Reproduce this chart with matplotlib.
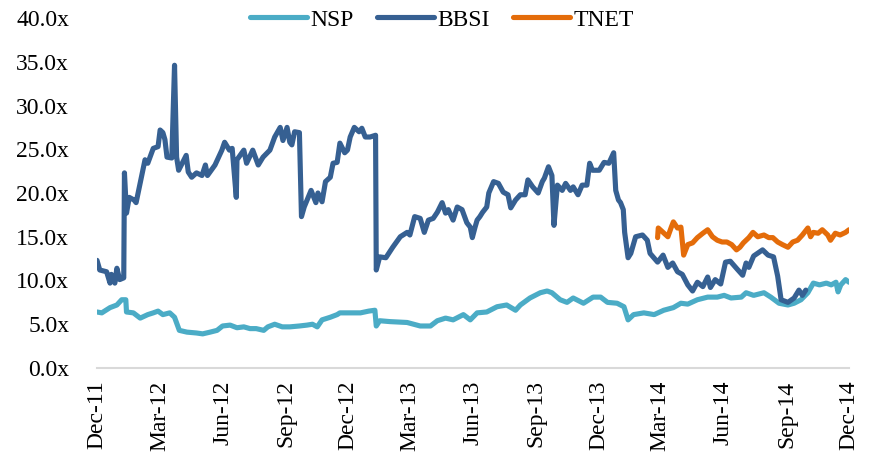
import matplotlib
matplotlib.use("Agg")
import matplotlib.pyplot as plt
import matplotlib.dates as mdates
import pandas as pd

# NSP multiple
nsp_dates = ["2011-12-01", "2011-12-08", "2011-12-20", "2011-12-30", "2012-01-06", "2012-01-12",
             "2012-01-13", "2012-01-23", "2012-02-02", "2012-02-13", "2012-02-21", "2012-02-28",
             "2012-03-06", "2012-03-16", "2012-03-23", "2012-03-30", "2012-04-10", "2012-04-24",
             "2012-05-03", "2012-05-14", "2012-05-24", "2012-06-01", "2012-06-12", "2012-06-22",
             "2012-07-02", "2012-07-11", "2012-07-20", "2012-07-31", "2012-08-06", "2012-08-16",
             "2012-08-27", "2012-09-07", "2012-09-21", "2012-10-02", "2012-10-10", "2012-10-17",
             "2012-10-24", "2012-11-05", "2012-11-15", "2012-11-19", "2012-11-30", "2012-12-10",
             "2012-12-19", "2012-12-31", "2013-01-09", "2013-01-11", "2013-01-16", "2013-01-31",
             "2013-02-25", "2013-03-16", "2013-03-31", "2013-04-10", "2013-04-22", "2013-05-03",
             "2013-05-18", "2013-05-28", "2013-06-07", "2013-06-21", "2013-07-06", "2013-07-20",
             "2013-08-02", "2013-08-09", "2013-08-23", "2013-09-07", "2013-09-17", "2013-09-24",
             "2013-10-06", "2013-10-16", "2013-10-25", "2013-11-09", "2013-11-23", "2013-12-04",
             "2013-12-14", "2013-12-28", "2014-01-07", "2014-01-13", "2014-01-21", "2014-02-05",
             "2014-02-20", "2014-03-06", "2014-03-20", "2014-03-31", "2014-04-10", "2014-04-24",
             "2014-05-09", "2014-05-23", "2014-06-02", "2014-06-12", "2014-06-27", "2014-07-04",
             "2014-07-15", "2014-07-30", "2014-08-09", "2014-08-21", "2014-09-03", "2014-09-12",
             "2014-09-22", "2014-10-02", "2014-10-10", "2014-10-19", "2014-10-29", "2014-11-05",
             "2014-11-12", "2014-11-15", "2014-11-19", "2014-11-26", "2014-12-01"]
nsp_vals = [6.4, 6.3, 6.9, 7.2, 7.8, 7.8,
            6.4, 6.3, 5.7, 6.1, 6.3, 6.5,
            6.1, 6.3, 5.8, 4.3, 4.1, 4.0,
            3.9, 4.1, 4.3, 4.8, 4.9, 4.6,
            4.7, 4.5, 4.5, 4.3, 4.7, 5.0,
            4.7, 4.7, 4.8, 4.9, 5.0, 4.7,
            5.5, 5.8, 6.1, 6.3, 6.3, 6.3,
            6.3, 6.5, 6.6, 4.8, 5.4, 5.3,
            5.2, 4.8, 4.8, 5.4, 5.7, 5.5,
            6.1, 5.5, 6.3, 6.4, 7.0, 7.2,
            6.6, 7.2, 8.0, 8.6, 8.8, 8.6,
            7.8, 7.5, 8.0, 7.4, 8.1, 8.1,
            7.5, 7.4, 7.0, 5.5, 6.1, 6.3,
            6.1, 6.6, 6.9, 7.4, 7.3, 7.8,
            8.1, 8.1, 8.3, 8.0, 8.1, 8.6,
            8.3, 8.6, 8.1, 7.4, 7.2, 7.4,
            7.8, 8.6, 9.7, 9.5, 9.7, 9.5,
            9.8, 8.7, 9.5, 10.1, 9.8]

# BBSI multiple
bbsi_dates = ["2011-12-01", "2011-12-05", "2011-12-15", "2011-12-20", "2011-12-22", "2011-12-27",
              "2011-12-30", "2012-01-03", "2012-01-09", "2012-01-10", "2012-01-13", "2012-01-17",
              "2012-01-24", "2012-01-27", "2012-02-09", "2012-02-13", "2012-02-21", "2012-02-28",
              "2012-03-02", "2012-03-06", "2012-03-09", "2012-03-12", "2012-03-19", "2012-03-23",
              "2012-03-26", "2012-03-29", "2012-04-09", "2012-04-12", "2012-04-17", "2012-04-24",
              "2012-05-02", "2012-05-07", "2012-05-10", "2012-05-21", "2012-05-31", "2012-06-04",
              "2012-06-11", "2012-06-15", "2012-06-21", "2012-06-22", "2012-07-02", "2012-07-06",
              "2012-07-15", "2012-07-23", "2012-07-30", "2012-08-09", "2012-08-16", "2012-08-24",
              "2012-08-28", "2012-09-03", "2012-09-07", "2012-09-10", "2012-09-14", "2012-09-21",
              "2012-09-24", "2012-09-28", "2012-10-08", "2012-10-15", "2012-10-18", "2012-10-24",
              "2012-10-29", "2012-11-05", "2012-11-09", "2012-11-15", "2012-11-19", "2012-11-26",
              "2012-11-30", "2012-12-04", "2012-12-10", "2012-12-17", "2012-12-21", "2012-12-26",
              "2013-01-02", "2013-01-10", "2013-01-11", "2013-01-16", "2013-01-25", "2013-02-04",
              "2013-02-15", "2013-02-25", "2013-03-01", "2013-03-08", "2013-03-16", "2013-03-22",
              "2013-03-28", "2013-04-04", "2013-04-10", "2013-04-17", "2013-04-22", "2013-04-26",
              "2013-05-03", "2013-05-09", "2013-05-16", "2013-05-23", "2013-05-28", "2013-05-31",
              "2013-06-04", "2013-06-07", "2013-06-11", "2013-06-15", "2013-06-21", "2013-06-24",
              "2013-07-01", "2013-07-08", "2013-07-15", "2013-07-22", "2013-07-26", "2013-08-02",
              "2013-08-09", "2013-08-16", "2013-08-20", "2013-08-27", "2013-09-04", "2013-09-10",
              "2013-09-13", "2013-09-19", "2013-09-24", "2013-09-27", "2013-10-02", "2013-10-09",
              "2013-10-14", "2013-10-21", "2013-10-25", "2013-11-01", "2013-11-07", "2013-11-14",
              "2013-11-18", "2013-11-22", "2013-12-02", "2013-12-09", "2013-12-16", "2013-12-23",
              "2013-12-26", "2013-12-30", "2014-01-02", "2014-01-06", "2014-01-08", "2014-01-13",
              "2014-01-17", "2014-01-24", "2014-02-03", "2014-02-10", "2014-02-14", "2014-02-25",
              "2014-03-05", "2014-03-12", "2014-03-19", "2014-03-26", "2014-04-02", "2014-04-10",
              "2014-04-17", "2014-04-24", "2014-05-02", "2014-05-09", "2014-05-13", "2014-05-20",
              "2014-05-28", "2014-06-04", "2014-06-11", "2014-06-21", "2014-06-29", "2014-07-04",
              "2014-07-08", "2014-07-15", "2014-07-28", "2014-08-05", "2014-08-13", "2014-08-19",
              "2014-08-24", "2014-09-03", "2014-09-12", "2014-09-19", "2014-09-24", "2014-09-29"]
bbsi_vals = [12.3, 11.2, 11.0, 9.7, 10.7, 9.7,
             11.4, 10.1, 10.3, 22.3, 17.7, 19.5,
             19.2, 18.9, 23.8, 23.4, 25.1, 25.3,
             27.2, 26.9, 26.1, 24.1, 24.0, 34.6,
             24.1, 22.6, 24.3, 22.4, 21.8, 22.3,
             22.0, 23.2, 22.0, 23.2, 24.9, 25.8,
             24.9, 25.1, 19.5, 23.8, 24.9, 23.4,
             24.9, 23.2, 24.1, 24.9, 26.4, 27.5,
             26.0, 27.5, 25.8, 25.5, 27.0, 26.9,
             17.3, 18.4, 20.3, 18.9, 20.0, 19.0,
             21.3, 21.8, 23.4, 23.5, 25.7, 24.6,
             24.9, 26.4, 27.5, 27.0, 27.4, 26.4,
             26.4, 26.6, 11.2, 12.7, 12.6, 13.8,
             15.0, 15.5, 15.2, 17.3, 17.1, 15.5,
             16.9, 17.1, 17.8, 18.9, 17.7, 18.1,
             16.9, 18.4, 18.1, 16.6, 16.1, 14.9,
             16.1, 16.9, 17.3, 17.8, 18.4, 20.0,
             21.3, 21.1, 20.1, 19.8, 18.3, 19.2,
             19.8, 19.8, 21.5, 20.7, 20.0, 21.3,
             21.7, 23.0, 22.0, 16.3, 20.9, 20.3,
             21.1, 20.3, 20.7, 19.8, 20.9, 20.9,
             23.4, 22.6, 22.6, 23.5, 23.4, 24.6,
             20.3, 19.2, 18.9, 18.1, 15.5, 12.6,
             13.1, 15.0, 15.2, 14.6, 13.1, 12.1,
             12.9, 11.5, 12.0, 11.0, 10.7, 9.5,
             8.8, 9.8, 9.3, 10.4, 9.2, 10.1,
             9.6, 12.1, 12.2, 11.3, 10.6, 12.0,
             11.5, 12.8, 13.5, 12.9, 12.7, 10.5,
             7.8, 7.5, 8.0, 8.9, 8.3, 8.9]

# TNET multiple
tnet_dates = ["2014-02-25", "2014-02-26", "2014-03-05", "2014-03-12", "2014-03-17", "2014-03-20",
              "2014-03-26", "2014-03-31", "2014-04-04", "2014-04-10", "2014-04-17", "2014-04-24",
              "2014-05-02", "2014-05-09", "2014-05-16", "2014-05-23", "2014-05-30", "2014-06-06",
              "2014-06-13", "2014-06-20", "2014-06-25", "2014-06-30", "2014-07-08", "2014-07-14",
              "2014-07-21", "2014-07-30", "2014-08-06", "2014-08-12", "2014-08-19", "2014-08-26",
              "2014-09-03", "2014-09-10", "2014-09-17", "2014-09-24", "2014-10-02", "2014-10-06",
              "2014-10-10", "2014-10-17", "2014-10-23", "2014-10-31", "2014-11-04", "2014-11-11",
              "2014-11-18", "2014-11-26", "2014-12-01"]
tnet_vals = [14.9, 16.0, 15.5, 15.0, 16.1, 16.7,
             16.0, 16.1, 12.9, 14.1, 14.3, 14.9,
             15.4, 15.8, 15.0, 14.6, 14.4, 14.4,
             14.1, 13.5, 13.8, 14.3, 14.9, 15.5,
             15.0, 15.2, 14.9, 14.9, 14.4, 14.1,
             13.8, 14.4, 14.6, 15.2, 16.0, 15.0,
             15.5, 15.4, 15.8, 15.2, 14.6, 15.4,
             15.2, 15.5, 15.8]

plt.rcParams['font.family'] = ['Liberation Serif', 'DejaVu Serif']

fig = plt.figure(figsize=(8.77, 4.62), dpi=100)
ax = fig.add_axes([0.1106, 0.2035, 0.8575, 0.7575])

line_kw = dict(linewidth=3.7, solid_capstyle='round', solid_joinstyle='round')
ax.plot(pd.to_datetime(nsp_dates), nsp_vals, color='#4BACC6', label='NSP', **line_kw)
ax.plot(pd.to_datetime(bbsi_dates), bbsi_vals, color='#366092', label='BBSI', **line_kw)
ax.plot(pd.to_datetime(tnet_dates), tnet_vals, color='#E46C0A', label='TNET', **line_kw)

ax.set_ylim(0, 40)
ax.set_yticks(range(0, 41, 5))
ax.yaxis.set_major_formatter(plt.FuncFormatter(lambda v, p: f"{v:.1f}x"))
ax.set_xlim(pd.Timestamp("2011-12-01"), pd.Timestamp("2014-12-01"))
ax.xaxis.set_major_locator(mdates.MonthLocator(bymonth=[3, 6, 9, 12]))
ax.xaxis.set_major_formatter(mdates.DateFormatter("%b-%y"))

for s in ['top', 'right', 'left']:
    ax.spines[s].set_visible(False)
ax.spines['bottom'].set_color('#D9D9D9')
ax.spines['bottom'].set_linewidth(1.5)

ax.tick_params(axis='y', length=0, pad=20, labelsize=17)
ax.tick_params(axis='x', length=0, pad=9, labelsize=17, labelrotation=90)

fig.legend(loc='center', bbox_to_anchor=(0.504, 0.957), ncol=3, frameon=False,
           fontsize=17, handlelength=2.4, handletextpad=0.15, columnspacing=1.0)

fig.savefig("out.png", dpi=100)
